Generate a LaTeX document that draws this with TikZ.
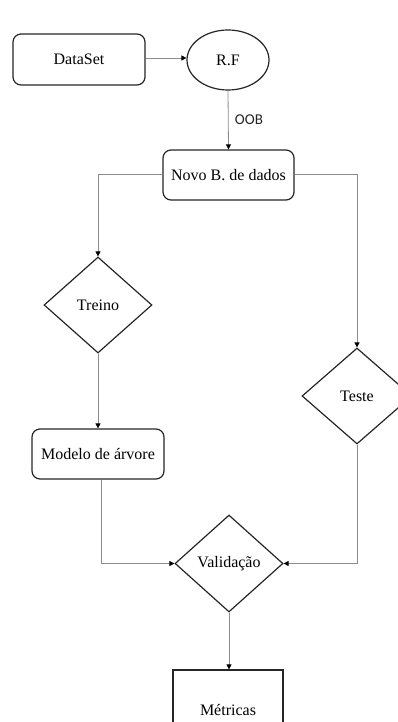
\documentclass[tikz,border=0pt]{standalone}
\usepackage{fontspec}
\setmainfont{Liberation Serif}
\newfontfamily\labelfont{Carlito}
\usetikzlibrary{shapes.geometric,arrows.meta}

\tikzset{
  box/.style={draw=black!85, line width=1.2pt, fill=white, inner sep=0pt,
    font=\fontsize{16}{18}\selectfont},
  roundbox/.style={box, rectangle, rounded corners=8pt},
  squarebox/.style={box, rectangle},
  oval/.style={box, ellipse},
  decision/.style={box, diamond, aspect=1.125},
  link/.style={draw=black!45, line width=0.8pt,
    -{Triangle[length=5pt,width=5pt,color=black]}},
}

\begin{document}
\begin{tikzpicture}[x=1pt, y=-1pt]
  \useasboundingbox[clip] (0,0) rectangle (398,722);
  \fill[white] (0,0) rectangle (398,722);

  % nodes
  \node[roundbox, minimum width=132pt, minimum height=51pt] (data) at (79,59.5) {DataSet};
  \node[oval, minimum width=82pt, minimum height=60pt] (rf) at (228,60) {R.F};
  \node[roundbox, minimum width=131pt, minimum height=50pt] (novo) at (228.5,175) {Novo B. de dados};
  \node[decision, minimum width=108pt, minimum height=96pt] (treino) at (98,305) {Treino};
  \node[decision, minimum width=110pt, minimum height=96pt] (teste) at (357,396) {Teste};
  \node[roundbox, minimum width=132pt, minimum height=50pt] (modelo) at (98,454) {Modelo de árvore};
  \node[decision, minimum width=108pt, minimum height=97pt] (valid) at (229,563.5) {Validação};
  \node[squarebox, minimum width=110pt, minimum height=80pt] (metr) at (228,710) {Métricas};

  % connectors
  \draw[link] (data.east |- 0,58) -- (rf.west |- 0,58);
  \draw[link] (rf.south) -- node[right=3pt, font=\labelfont\fontsize{15}{17}\selectfont, text=black!85] {OOB} (novo.north);
  \draw[link] (novo.west |- 0,174) -| (treino.north);
  \draw[link] (novo.east |- 0,174) -| (teste.north);
  \draw[link] (treino.south) -- (modelo.north);
  \draw[link] (modelo.south -| 101,0) |- (valid.west);
  \draw[link] (teste.south) |- (valid.east);
  \draw[link] (valid.south) -- (valid.south |- metr.north);
\end{tikzpicture}
\end{document}
